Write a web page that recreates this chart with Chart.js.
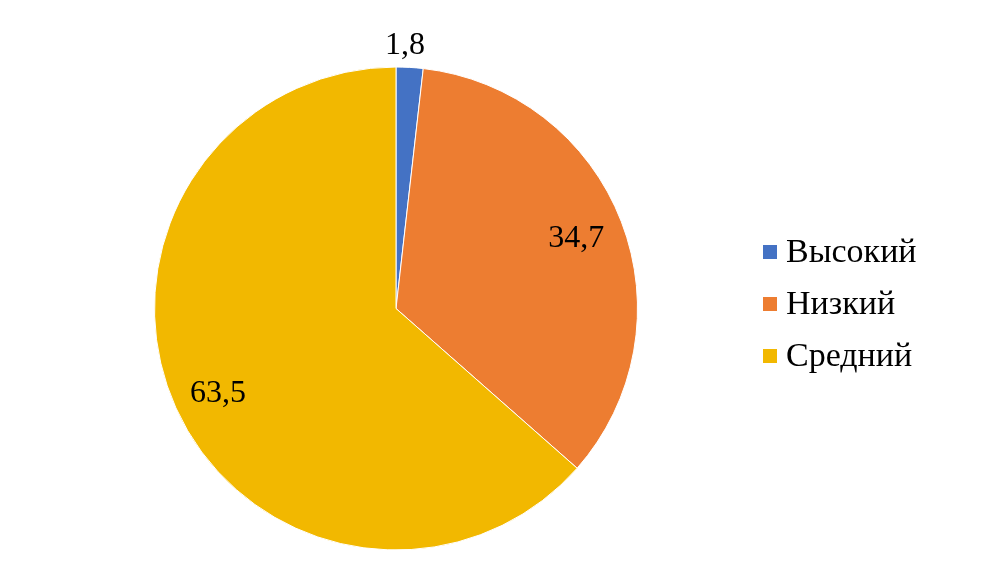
<!DOCTYPE html>
<html lang="ru">
<head>
  <meta charset="UTF-8" />
  <title>Уровни</title>
  <script src="https://cdn.jsdelivr.net/npm/chart.js"></script>
  <style>
    html, body { margin: 0; padding: 0; background: #fff; }
    #wrap { width: 993px; height: 585px; }
  </style>
</head>
<body>
  <div id="wrap"><canvas id="pieChart" width="993" height="585"></canvas></div>

  <script>
    const labels = ['Высокий', 'Низкий', 'Средний'];
    const values = [1.8, 34.7, 63.5];
    const colors = ['#4472C4', '#ED7D31', '#F2B800'];

    const serif = "'Liberation Serif', 'Times New Roman', serif";

    // value labels: first one outside the pie, the rest inside
    const valueLabels = {
      id: 'valueLabels',
      afterDatasetsDraw(chart) {
        const ctx = chart.ctx;
        const arcs = chart.getDatasetMeta(0).data;
        ctx.save();
        ctx.font = '32px ' + serif;
        ctx.fillStyle = '#000';
        ctx.textAlign = 'center';
        ctx.textBaseline = 'middle';
        arcs.forEach((arc, i) => {
          const mid = (arc.startAngle + arc.endAngle) / 2;
          const r = i === 0 ? arc.outerRadius + 22 : arc.outerRadius * 0.8;
          const x = arc.x + Math.cos(mid) * r - (i === 0 ? 6 : i === 2 ? 2 : 0);
          const y = arc.y + Math.sin(mid) * r + (i === 2 ? 6 : 0);
          ctx.fillText(values[i].toLocaleString('ru-RU'), x, y);
        });
        ctx.restore();
      }
    };

    // legend on the right, drawn by hand
    const sideLegend = {
      id: 'sideLegend',
      afterDraw(chart) {
        const ctx = chart.ctx;
        ctx.save();
        ctx.font = '34px ' + serif;
        ctx.textBaseline = 'middle';
        labels.forEach((name, i) => {
          const y = 252 + i * 52;
          ctx.fillStyle = colors[i];
          ctx.fillRect(763, y - 7, 14, 14);
          ctx.fillStyle = '#000';
          ctx.fillText(name, 786, y + 1);
        });
        ctx.restore();
      }
    };

    new Chart(document.getElementById('pieChart'), {
      type: 'pie',
      data: {
        labels: labels,
        datasets: [{
          data: values,
          backgroundColor: colors,
          borderColor: '#fff',
          borderWidth: 1
        }]
      },
      options: {
        responsive: false,
        animation: false,
        layout: { padding: { top: 66, bottom: 34, left: 154, right: 355 } },
        plugins: {
          legend: { display: false },
          tooltip: { enabled: false }
        }
      },
      plugins: [valueLabels, sideLegend]
    });
  </script>
</body>
</html>
